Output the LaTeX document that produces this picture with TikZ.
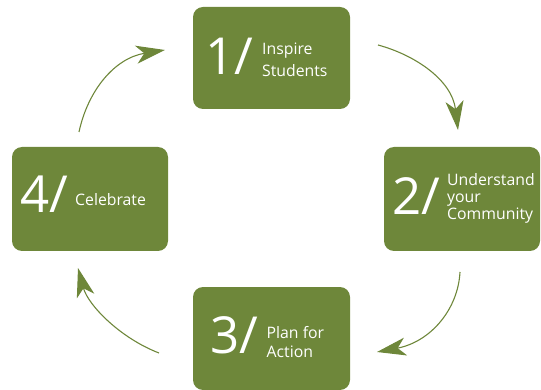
\documentclass[tikz,border=0pt]{standalone}
\usepackage{fontspec}
\setmainfont{Open Sans}
\usetikzlibrary{arrows.meta}
\definecolor{olivegreen}{RGB}{110,135,58}
\begin{document}
\begin{tikzpicture}[x=1pt,y=-1pt,
  box/.style={fill=olivegreen, rounded corners=10pt, inner sep=0pt, draw=none},
  num/.style={text=white, font=\fontsize{51}{51}\selectfont, anchor=base west, inner sep=0pt},
  lbl/.style={text=white, font=\fontsize{15.8}{#1}\selectfont, anchor=base west, inner sep=0pt, align=left},
  cyc/.style={draw=olivegreen, line width=1.1pt, -{Stealth[length=29pt,width=18pt,inset=8pt]}}]
\useasboundingbox (0,0) rectangle (541,390);
% boxes
\node[box, minimum width=157pt, minimum height=102pt] (b1) at (271.5,58) {};
\node[box, minimum width=156pt, minimum height=104pt] (b2) at (462,199) {};
\node[box, minimum width=157pt, minimum height=103pt] (b3) at (271.5,338.5) {};
\node[box, minimum width=156pt, minimum height=104pt] (b4) at (90,199) {};
% numbers
\node[num] (n1) at (205,75) {1/};
\node[num] (n2) at (392,215) {2/};
\node[num] (n3) at (210,353) {3/};
\node[num] (n4) at (20,213) {4/};
% labels (anchor = baseline of the last line)
\node[lbl=22] (l1) at (262,77) {Inspire\\Students};
\node[lbl=17] (l2) at (447,220) {Understand\\your\\Community};
\node[lbl=19] (l3) at (266.5,357) {Plan for\\Action};
\node[lbl=17] (l4) at (75,206) {Celebrate};
% connector end points
\coordinate (s12) at (378,45);  \coordinate (e12) at (458,130);
\coordinate (s23) at (460,272); \coordinate (e23) at (377,352);
\coordinate (s34) at (159,353); \coordinate (e34) at (78,268);
\coordinate (s41) at (79,132);  \coordinate (e41) at (165,50);
% cycle arrows
\draw[cyc] (s12) .. controls (415,55) and (452,80) .. (e12);
\draw[cyc] (s23) .. controls (458,310) and (430,342) .. (e23);
\draw[cyc] (s34) .. controls (120,338) and (88,305) .. (e34);
\draw[cyc] (s41) .. controls (88,90) and (115,58) .. (e41);
\end{tikzpicture}
\end{document}
